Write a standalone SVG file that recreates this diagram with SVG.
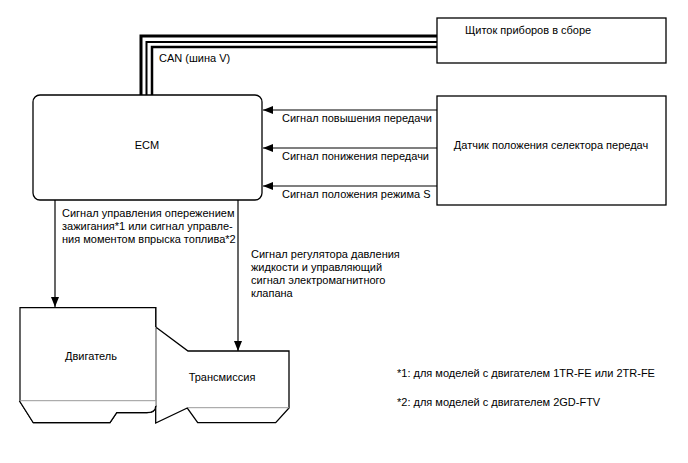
<svg xmlns="http://www.w3.org/2000/svg" width="688" height="463" viewBox="0 0 688 463">
<style>
text{font-family:"Liberation Sans",Arial,sans-serif;font-size:11px;fill:#000}
.box{fill:#fff;stroke:#000;stroke-width:1.3}
.ln{fill:none;stroke:#000;stroke-width:1.2}
.can{fill:none;stroke:#000}
.gr{fill:none;stroke:#999;stroke-width:1}
</style>
<defs>
<marker id="ah" viewBox="0 0 10 10" refX="10" refY="5" markerWidth="10" markerHeight="10" markerUnits="userSpaceOnUse" orient="auto">
<path d="M0,1 L10,5 L0,9 Z" fill="#000"/>
</marker>
</defs>
<g id="connectors">
<path class="can" stroke-width="3" d="M141,95 V36 H437"/>
<path class="can" stroke-width="2" d="M146.5,95 V42 H437"/>
<path class="can" stroke-width="2.5" d="M152,95 V47 H437"/>
<path class="ln" marker-end="url(#ah)" d="M437,110 H263"/>
<path class="ln" marker-end="url(#ah)" d="M437,148 H263"/>
<path class="ln" marker-end="url(#ah)" d="M437,186 H263"/>
<path class="ln" marker-end="url(#ah)" d="M55,200 V307"/>
<path class="ln" marker-end="url(#ah)" d="M238,200 V351"/>
<text x="159" y="62">CAN (шина V)</text>
<text x="282" y="122">Сигнал повышения передачи</text>
<text x="282" y="160">Сигнал понижения передачи</text>
<text x="282" y="198">Сигнал положения режима S</text>
<text x="62" y="217">Сигнал управления опережением</text>
<text x="62" y="230">зажигания*1 или сигнал управле-</text>
<text x="62" y="243">ния моментом впрыска топлива*2</text>
<text x="251" y="258">Сигнал регулятора давления</text>
<text x="251" y="271">жидкости и управляющий</text>
<text x="251" y="284">сигнал электромагнитного</text>
<text x="251" y="297">клапана</text>
</g>
<g id="ecm">
<rect class="box" x="33" y="95" width="229" height="105" rx="7"/>
<text x="147" y="149" text-anchor="middle">ECM</text>
</g>
<g id="cluster">
<rect class="box" x="437" y="18" width="229" height="45"/>
<text x="465" y="34">Щиток приборов в сборе</text>
</g>
<g id="selector">
<rect class="box" x="437" y="96" width="229" height="109"/>
<text x="551" y="149" text-anchor="middle">Датчик положения селектора передач</text>
</g>
<g id="transmission">
<path class="box" d="M155.7,327 L188,351 H289 V408 L275.7,422.7 H197.7 L187.3,408 L155.7,423 Z"/>
<path class="gr" d="M188,407.7 H289"/>
<text x="222" y="381" text-anchor="middle">Трансмиссия</text>
</g>
<g id="engine">
<path class="box" d="M20,307.7 H155.7 V327 M155.7,406 Q155.7,412.7 146.7,412.7 H116.7 L110,422.7 H33.3 L20,401.7 Z" fill="none"/>
<path fill="#fff" stroke="none" d="M20,307.7 H155.7 V406 Q155.7,412.7 146.7,412.7 H116.7 L110,422.7 H33.3 L20,401.7 Z"/>
<path class="ln" stroke-width="1.3" d="M155.7,327 V307.7 H20 V401.7 L33.3,422.7 H110 L116.7,412.7 H146.7 Q155.7,412.7 155.7,406"/>
<path class="gr" d="M155.7,327 V401 M20,400.7 H155.7"/>
<text x="91" y="360" text-anchor="middle">Двигатель</text>
</g>
<g id="notes">
<text x="397" y="377" font-size="10.5">*1: для моделей с двигателем 1TR-FE или 2TR-FE</text>
<text x="397" y="406" font-size="10.5">*2: для моделей с двигателем 2GD-FTV</text>
</g>
</svg>
